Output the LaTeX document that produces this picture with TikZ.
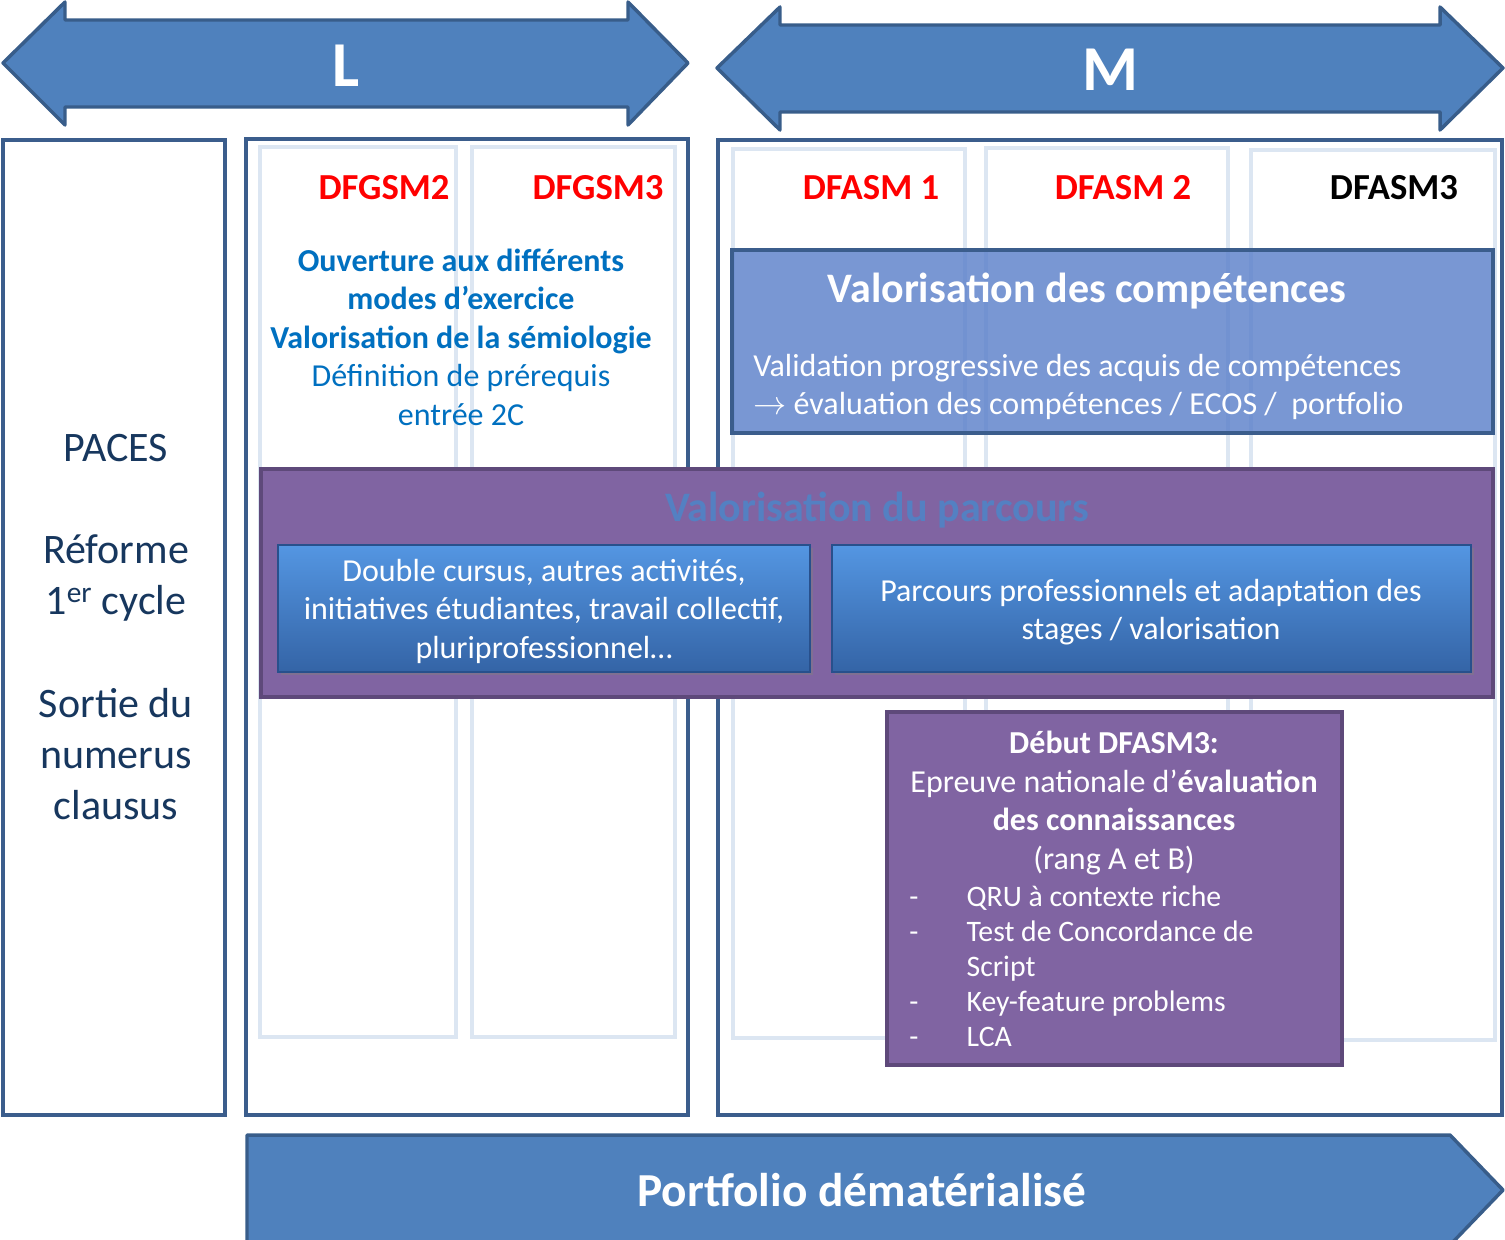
\documentclass[tikz,border=0pt]{standalone}
\usepackage{fontspec}
\setmainfont{Carlito}
\usetikzlibrary{shadows}
\definecolor{arrowfill}{RGB}{79,129,189}
\definecolor{arrowline}{RGB}{56,93,138}
\definecolor{framecol}{RGB}{59,93,140}
\definecolor{colline}{RGB}{220,230,242}
\definecolor{compfill}{RGB}{88,126,201}
\definecolor{purplefill}{RGB}{128,100,162}
\definecolor{purpleline}{RGB}{94,73,122}
\definecolor{navytxt}{RGB}{23,55,94}
\definecolor{bluetxt}{RGB}{0,112,192}
\definecolor{partitle}{RGB}{84,128,194}
\definecolor{btntop}{RGB}{84,150,226}
\definecolor{btnbot}{RGB}{52,100,166}
\definecolor{btnline}{RGB}{40,80,140}
\begin{document}
\begin{tikzpicture}[x=0.75pt,y=-0.75pt,
  frame/.style={draw=framecol, line width=2.4pt, fill=white},
  yearcol/.style={draw=colline, line width=3pt, fill=white},
  bigarrow/.style={draw=arrowline, line width=2.6pt, fill=arrowfill, line join=round},
  purplebox/.style={draw=purpleline, line width=3pt, fill=purplefill},
  button/.style={draw=btnline, line width=0.8pt, top color=btntop, bottom color=btnbot,
    drop shadow={opacity=0.45, shadow xshift=2pt, shadow yshift=-2pt}},
  yeartxt/.style={font=\fontsize{27.5}{33}\selectfont\bfseries, inner sep=0pt},
  bodytxt/.style={font=\fontsize{24}{28.9}\selectfont, inner sep=0pt, align=center},
  titletxt/.style={font=\fontsize{31.5}{37}\selectfont\bfseries, inner sep=0pt}]
\useasboundingbox (0,0) rectangle (1505,1239);
\clip (0,0) rectangle (1505,1239);

% L and M arrows
\draw[bigarrow] (3,63) -- (65,2) -- (65,20) -- (628,20) -- (628,2) -- (688,63)
  -- (628,125) -- (628,107) -- (65,107) -- (65,125) -- cycle;
\node[text=white, font=\fontsize{48}{56}\selectfont\bfseries] (lic) at (346,66) {L};
\draw[bigarrow] (717,68) -- (780,7) -- (780,25) -- (1440,25) -- (1440,7) -- (1503,68)
  -- (1440,130) -- (1440,112) -- (780,112) -- (780,130) -- cycle;
\node[text=white, font=\fontsize{48}{56}\selectfont\bfseries] (mas) at (1110,70) {M};

% frames
\draw[frame] (3,140) rectangle (225,1115);
\draw[frame] (246,139) rectangle (688,1115);
\draw[frame] (718,140) rectangle (1502,1115);

% year columns
\draw[yearcol] (260,147) rectangle (456,1037);
\draw[yearcol] (472,147) rectangle (675,1037);
\draw[yearcol] (733,149) rectangle (965,1038);
\draw[yearcol] (986,148) rectangle (1228,1038);
\draw[yearcol] (1251,150) rectangle (1495,1040);

\node[navytxt, font=\fontsize{31.5}{38.3}\selectfont, align=center, inner sep=0pt] (paces) at (116,627)
  {PACES\\[38.3pt]Réforme\\1\textsuperscript{er} cycle\\[38.3pt]Sortie du\\numerus\\clausus};

\node[yeartxt, red, anchor=base] (dfgsm2) at (384,199) {DFGSM2};
\node[yeartxt, red, anchor=base] (dfgsm3) at (598,199) {DFGSM3};
\node[yeartxt, red, anchor=base] (dfasm1) at (871,199) {DFASM 1};
\node[yeartxt, red, anchor=base] (dfasm2) at (1123,199) {DFASM 2};
\node[yeartxt, black, anchor=base] (dfasm3) at (1394,199) {DFASM3};

\node[bodytxt, bluetxt] (ouverture) at (461,337)
  {\bfseries Ouverture aux différents\\\bfseries modes d’exercice\\\bfseries Valorisation de la sémiologie\\Définition de prérequis\\entrée 2C};

% competences
\draw[draw=framecol, line width=3pt, fill=compfill, fill opacity=0.8] (732,250) rectangle (1493,433);
\node[titletxt, white] (comp) at (1087,291) {Valorisation des compétences};
\node[bodytxt, white, align=left, anchor=west] (valid) at (753,387)
  {Validation progressive des acquis de compétences\\$\rightarrow$ évaluation des compétences / ECOS /\ \ portfolio};

% parcours
\draw[purplebox] (261,469) rectangle (1493,697);
\node[titletxt, partitle] (parc) at (877,510) {Valorisation du parcours};
\draw[button] (278,545) rectangle (810,672);
\node[bodytxt, white] (double) at (544,611)
  {Double cursus, autres activités,\\initiatives étudiantes, travail collectif,\\pluriprofessionnel…};
\draw[button] (832,545) rectangle (1471,672);
\node[bodytxt, white] (stages) at (1151,612)
  {Parcours professionnels et adaptation des\\stages / valorisation};

% debut DFASM3
\draw[purplebox] (887,712) rectangle (1342,1065);
\node[bodytxt, white] (debut) at (1114,803)
  {\bfseries Début DFASM3:\\Epreuve nationale d’\textbf{évaluation}\\\bfseries des connaissances\\(rang A et B)};
\node[bodytxt, white, align=left, anchor=west, font=\fontsize{22.3}{26.3}\selectfont] (liste) at (909,966)
  {\makebox[43pt][l]{-}QRU à contexte riche\\\makebox[43pt][l]{-}Test de Concordance de\\\makebox[43pt][l]{}Script\\\makebox[43pt][l]{-}Key-feature problems\\\makebox[43pt][l]{-}LCA};

% portfolio
\draw[bigarrow] (247,1135) -- (1450,1135) -- (1503,1190) -- (1450,1245) -- (247,1245) -- cycle;
\node[text=white, font=\fontsize{35.5}{42}\selectfont\bfseries] (portf) at (862,1190) {Portfolio dématérialisé};
\end{tikzpicture}
\end{document}
